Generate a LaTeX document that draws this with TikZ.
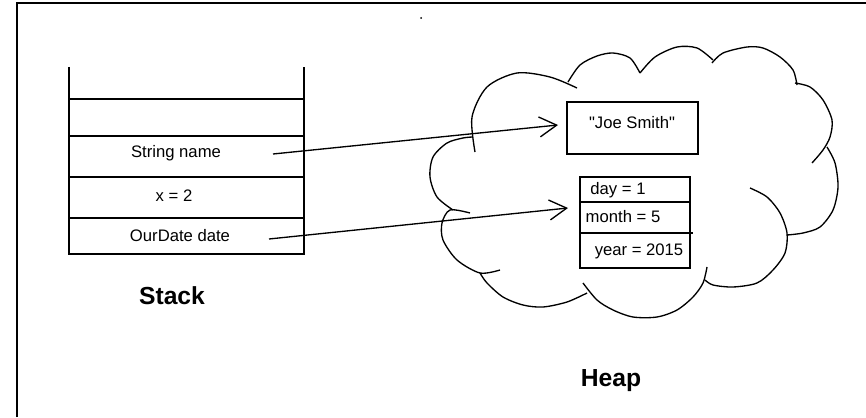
\documentclass[tikz,border=0pt]{standalone}
\usepackage{fontspec}
\setmainfont{Liberation Sans}
\newfontfamily\quotefont{Liberation Sans}[Ligatures=TeXOff]
\usetikzlibrary{arrows.meta}
\begin{document}
\begin{tikzpicture}[x=0.75pt,y=-0.75pt, line width=1pt,
  lbl/.style={font=\fontsize{12.5}{15}\selectfont, inner sep=0pt},
  ttl/.style={font=\fontsize{18.5}{22}\selectfont\bfseries, inner sep=0pt},
  ptr/.style={-{Straight Barb[length=13pt,width=15pt]}, line width=1pt},
  cloudarc/.style={line width=1pt},
  boxline/.style={line width=1.2pt}]
\useasboundingbox (0,0) rectangle (866,417);
% frame
\draw[line width=1.5pt] (17,417) -- (17,3.5) -- (866,3.5);
\fill (421,18) circle[radius=1];
% stack
\draw[boxline] (69,67) -- (69,254) -- (304,254) -- (304,67);
\foreach \yy in {99,136,177,218} \draw[boxline] (69,\yy) -- (304,\yy);
\node[lbl] (sname) at (176,153) {String name};
\node[lbl] (sx) at (174,196) {x = 2};
\node[lbl] (sdate) at (180,236) {OurDate date};
\node[ttl] (stack) at (172,296) {Stack};
% cloud
\draw[cloudarc] plot[smooth] coordinates {(475,152) (472,117) (487,87) (517,73) (550,77) (577,88)};
\draw[cloudarc] plot[smooth] coordinates {(568,82) (580,65) (597,56) (613,53) (630,58) (640,73)};
\draw[cloudarc] plot[smooth] coordinates {(640,73) (655,57) (677,47) (697,48) (713,60)};
\draw[cloudarc] plot[smooth] coordinates {(712,63) (723,53) (747,47) (763,48) (780,57) (793,70) (797,85)};
\draw[cloudarc] plot[smooth] coordinates {(795,83) (810,87) (823,100) (832,120) (830,137) (823,150) (812,163)};
\draw[cloudarc] plot[smooth] coordinates {(827,147) (835,163) (838,187) (833,210) (820,227) (803,233) (787,235)};
\draw[cloudarc] plot[smooth] coordinates {(750,188) (767,197) (780,213) (787,233) (785,253) (773,270) (757,283) (733,287) (713,285) (705,280)};
\draw[cloudarc] plot[smooth] coordinates {(707,267) (703,283) (693,297) (677,310) (657,317) (633,317) (613,310) (597,300) (583,283)};
\draw[cloudarc] plot[smooth] coordinates {(587,293) (567,302) (543,307) (523,305) (503,297) (487,283) (480,273)};
\draw[cloudarc] plot[smooth] coordinates {(500,270) (480,273) (457,260) (443,240) (442,223) (450,210) (470,213)};
\draw[cloudarc] plot[smooth] coordinates {(453,210) (437,197) (430,177) (433,157) (447,143) (463,138) (473,137)};
\node[ttl] (heap) at (611,381) {Heap};
% heap objects
\draw[boxline] (567,102) rectangle (698,154);
\node[lbl] (joe) at (632,123) {\quotefont "Joe Smith"};
\draw[boxline] (580,177) rectangle (690,268);
\draw[boxline] (580,202) -- (690,202);
\draw[boxline] (580,233) -- (693,233);
\node[lbl] (day) at (618,190) {day = 1};
\node[lbl] (month) at (623,217) {month = 5};
\node[lbl] (year) at (639,251) {year = 2015};
% pointers
\coordinate (p1s) at (273,154);
\coordinate (p1e) at (558,125);
\coordinate (p2s) at (269,239);
\coordinate (p2e) at (568,208);
\draw[ptr] (p1s) -- (p1e);
\draw[ptr] (p2s) -- (p2e);
\end{tikzpicture}
\end{document}
